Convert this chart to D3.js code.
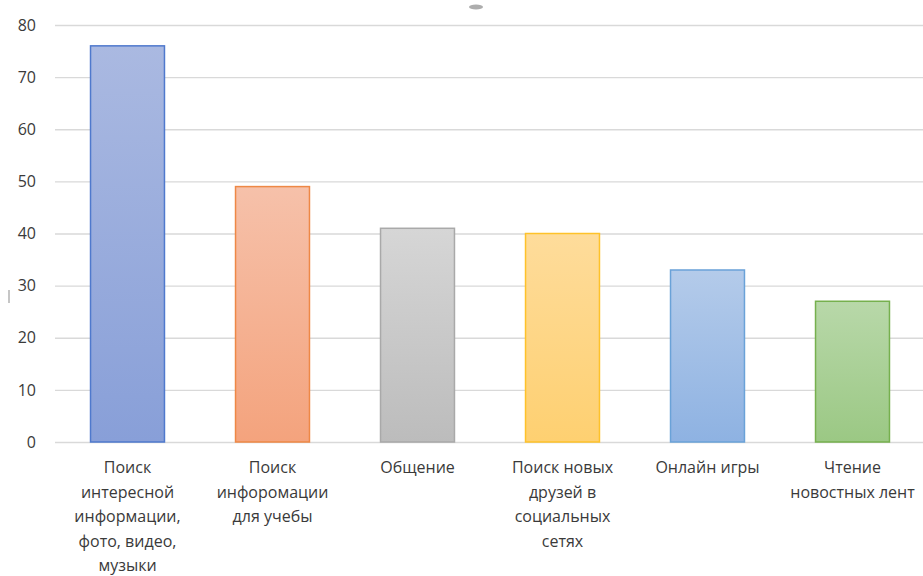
<!DOCTYPE html>
<html>
<head>
<meta charset="utf-8">
<script src="https://cdn.jsdelivr.net/npm/d3@7.9.0/dist/d3.min.js"></script>
<style>
  body { margin: 0; background: #fff; }
  text { font-family: "Open Sans", "Noto Sans", sans-serif; }
</style>
</head>
<body>
<div id="chart"></div>
<script>
const categories = [
    "Поиск интересной информации, фото, видео, музыки",
    "Поиск инфоромации для учебы",
    "Общение",
    "Поиск новых друзей в социальных сетях",
    "Онлайн игры",
    "Чтение новостных лент"
];
const labelLines = [
    ["Поиск", "интересной", "информации,", "фото, видео,", "музыки"],
    ["Поиск", "инфоромации", "для учебы"],
    ["Общение"],
    ["Поиск новых", "друзей в", "социальных", "сетях"],
    ["Онлайн игры"],
    ["Чтение", "новостных лент"]
];
const values = [76, 49, 41, 40, 33, 27];
const yTicks = [0, 10, 20, 30, 40, 50, 60, 70, 80];

// top / bottom gradient colours and border per bar
const fillTop = ["#aab9e1", "#f6c1aa", "#d6d6d6", "#fedc9b", "#b4cbea", "#b8d8a9"];
const fillBottom = ["#889fd8", "#f4a37d", "#bcbcbc", "#fed071", "#8eb2e2", "#9bc884"];
const strokes = ["#4f79cd", "#ee8846", "#a9a9a9", "#fec22a", "#6aa2d8", "#76b04e"];

const width = 923, height = 576;
const margin = { top: 25, right: -2, bottom: 134, left: 55 };

const svg = d3.select("#chart").append("svg")
    .attr("width", width)
    .attr("height", height);

const x = d3.scaleBand()
    .domain(categories)
    .range([margin.left, width - margin.right])
    .paddingInner(0.49)
    .paddingOuter(0.245);

const y = d3.scaleLinear()
    .domain([0, 80])
    .range([height - margin.bottom, margin.top]);

// gradients
const defs = svg.append("defs");
categories.forEach((c, i) => {
    const g = defs.append("linearGradient")
        .attr("id", "grad" + i)
        .attr("x1", 0).attr("y1", 0).attr("x2", 0).attr("y2", 1);
    g.append("stop").attr("offset", "0%").attr("stop-color", fillTop[i]);
    g.append("stop").attr("offset", "100%").attr("stop-color", fillBottom[i]);
});

// grid + y labels
const yAxis = svg.append("g")
    .attr("transform", `translate(${margin.left},0)`)
    .call(d3.axisLeft(y).tickValues(yTicks).tickSize(-(width - margin.left)).tickPadding(19));
yAxis.select(".domain").remove();
yAxis.selectAll(".tick line").attr("stroke", "#d9d9d9").attr("stroke-width", 1.3);
yAxis.selectAll(".tick text")
    .attr("fill", "#3a3a3a")
    .attr("font-size", 16);

// bars
svg.append("g").selectAll("rect")
    .data(values)
    .join("rect")
    .attr("x", (d, i) => x(categories[i]))
    .attr("y", d => y(d))
    .attr("width", x.bandwidth())
    .attr("height", d => y(0) - y(d))
    .attr("fill", (d, i) => `url(#grad${i})`)
    .attr("stroke", (d, i) => strokes[i])
    .attr("stroke-width", 1.5);

// category labels
const labels = svg.append("g").selectAll("text")
    .data(labelLines)
    .join("text")
    .attr("text-anchor", "middle")
    .attr("fill", "#3a3a3a")
    .attr("font-size", 16)
    .attr("transform", (d, i) => `translate(${x(categories[i]) + x.bandwidth() / 2},${y(0) + 31})`);

labels.selectAll("tspan")
    .data(d => d)
    .join("tspan")
    .attr("x", 0)
    .attr("dy", (d, i) => i === 0 ? 0 : 24.5)
    .text(d => d);

// small leftover marks in the source image
svg.append("ellipse")
    .attr("cx", 476).attr("cy", 7).attr("rx", 7).attr("ry", 2.5)
    .attr("fill", "#8a8a8a").attr("opacity", 0.7);
svg.append("line")
    .attr("x1", 9).attr("x2", 9).attr("y1", 290).attr("y2", 303)
    .attr("stroke", "#a0a0a0").attr("stroke-width", 1.2);
</script>
</body>
</html>
